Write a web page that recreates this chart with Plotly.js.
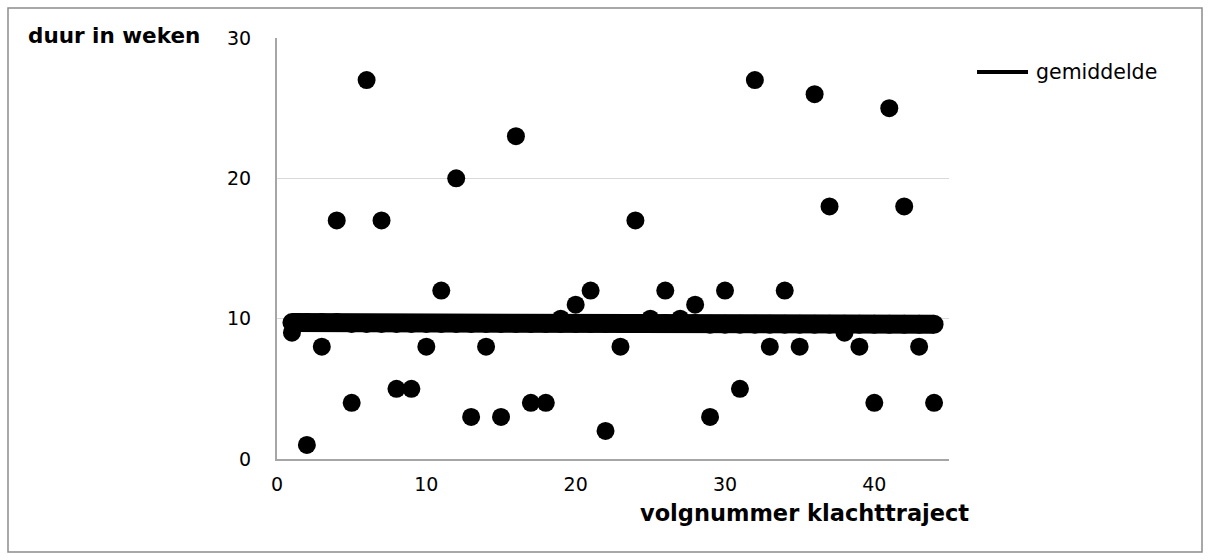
<!DOCTYPE html>
<html>
<head>
<meta charset="utf-8">
<script src="https://cdn.plot.ly/plotly-3.0.1.min.js"></script>
<style>
  html, body { margin: 0; padding: 0; background: #ffffff; }
  #chart { width: 1210px; height: 560px; }
</style>
</head>
<body>
<div id="chart"></div>
<script>
// ---- data ----
const trajectNr = [1,2,3,4,5,6,7,8,9,10,11,12,13,14,15,16,17,18,19,20,21,22,
                   23,24,25,26,27,28,29,30,31,32,33,34,35,36,37,38,39,40,41,42,43,44];
const duurWeken = [9,1,8,17,4,27,17,5,5,8,12,20,3,8,3,23,4,4,10,11,12,2,
                   8,17,10,12,10,11,3,12,5,27,8,12,8,26,18,9,8,4,25,18,8,4];
const gemiddelde = [9.72,9.72,9.72,9.72,9.66,9.66,9.66,9.66,9.66,9.66,9.66,9.66,9.66,9.66,9.66,9.66,9.66,9.66,9.66,9.66,9.66,9.66,
                    9.66,9.66,9.66,9.66,9.66,9.66,9.6,9.6,9.6,9.6,9.6,9.6,9.6,9.6,9.6,9.6,9.6,9.6,9.6,9.6,9.6,9.6];
const xTicks = [0,10,20,30,40];
const yTicks = [0,10,20,30];
const legendName = 'gemiddelde';
const yTitle = 'duur in weken';
const xTitle = 'volgnummer klachttraject';

const FONT = 'DejaVu Sans, Verdana, sans-serif';

const traces = [
  {
    x: trajectNr, y: duurWeken, type: 'scatter', mode: 'markers',
    marker: { color: '#000000', size: 18, line: { width: 0 } },
    showlegend: false, hoverinfo: 'x+y'
  },
  {
    x: trajectNr, y: gemiddelde, type: 'scatter', mode: 'lines+markers',
    line: { color: '#000000', width: 19 },
    marker: { color: '#000000', size: 19, line: { width: 0 } },
    showlegend: false, name: legendName
  }
];

const layout = {
  width: 1210, height: 560,
  paper_bgcolor: '#ffffff', plot_bgcolor: '#ffffff',
  margin: { l: 277, r: 261, t: 38, b: 101, pad: 0 },
  font: { family: FONT, size: 18, color: '#000000' },
  showlegend: false,
  xaxis: {
    range: [0, 45], tickvals: xTicks, ticktext: xTicks.map(String),
    showgrid: false, zeroline: false,
    showline: true, linecolor: '#a6a6a6', linewidth: 2,
    ticks: '', ticklabelstandoff: 7,
    tickfont: { family: FONT, size: 19, color: '#000000' }
  },
  yaxis: {
    range: [0, 30], tickvals: yTicks, ticktext: yTicks.map(String),
    showgrid: true, gridcolor: '#d9d9d9', gridwidth: 1.5,
    zeroline: false,
    showline: true, linecolor: '#a6a6a6', linewidth: 2,
    ticks: '', ticklabelstandoff: 20,
    tickfont: { family: FONT, size: 19, color: '#000000' }
  },
  annotations: [
    { xref: 'paper', yref: 'paper', x: -0.373, y: 1.0048, xanchor: 'left', yanchor: 'middle',
      text: '<b>' + yTitle + '</b>', showarrow: false,
      font: { family: FONT, size: 21.5, color: '#000000' } },
    { xref: 'paper', yref: 'paper', x: 1.032, y: -0.128, xanchor: 'right', yanchor: 'middle',
      text: '<b>' + xTitle + '</b>', showarrow: false,
      font: { family: FONT, size: 22.5, color: '#000000' } },
    { xref: 'paper', yref: 'paper', x: 1.126, y: 0.9192, xanchor: 'left', yanchor: 'middle',
      text: legendName, showarrow: false,
      font: { family: FONT, size: 20.5, color: '#000000' } }
  ],
  shapes: [
    { type: 'rect', xref: 'paper', yref: 'paper',
      x0: -0.4003, x1: 1.3765, y0: -0.2209, y1: 1.0713,
      line: { color: '#8c8c8c', width: 1.5 }, fillcolor: 'rgba(0,0,0,0)', layer: 'below' },
    { type: 'line', xref: 'paper', yref: 'paper',
      x0: 1.0417, x1: 1.1176, y0: 0.9192, y1: 0.9192,
      line: { color: '#000000', width: 4 } }
  ]
};

Plotly.newPlot('chart', traces, layout, { displayModeBar: false, staticPlot: true });
</script>
</body>
</html>
